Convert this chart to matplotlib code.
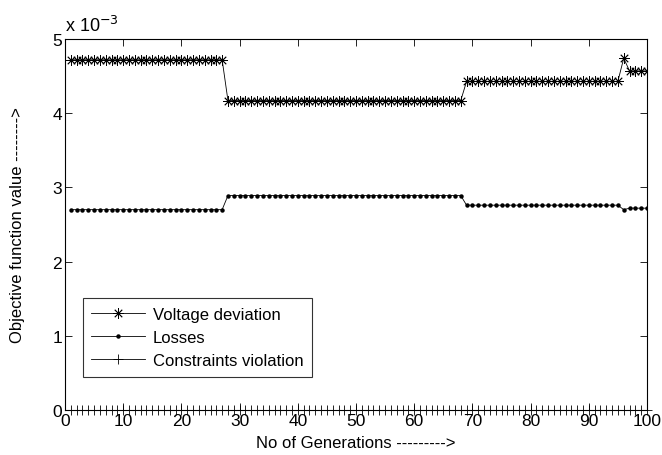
import matplotlib
matplotlib.use("Agg")
import matplotlib.pyplot as plt
import numpy as np

plt.rcParams['font.family'] = ['Liberation Sans', 'DejaVu Sans']

# Generations
generations = list(range(1, 101))

# Objective values in units of 1e-3
voltage_deviation = [
    4.72, 4.72, 4.72, 4.72, 4.72, 4.72, 4.72, 4.72, 4.72, 4.72,
    4.72, 4.72, 4.72, 4.72, 4.72, 4.72, 4.72, 4.72, 4.72, 4.72,
    4.72, 4.72, 4.72, 4.72, 4.72, 4.72, 4.72, 4.17, 4.17, 4.17,
    4.17, 4.17, 4.17, 4.17, 4.17, 4.17, 4.17, 4.17, 4.17, 4.17,
    4.17, 4.17, 4.17, 4.17, 4.17, 4.17, 4.17, 4.17, 4.17, 4.17,
    4.17, 4.17, 4.17, 4.17, 4.17, 4.17, 4.17, 4.17, 4.17, 4.17,
    4.17, 4.17, 4.17, 4.17, 4.17, 4.17, 4.17, 4.17, 4.43, 4.43,
    4.43, 4.43, 4.43, 4.43, 4.43, 4.43, 4.43, 4.43, 4.43, 4.43,
    4.43, 4.43, 4.43, 4.43, 4.43, 4.43, 4.43, 4.43, 4.43, 4.43,
    4.43, 4.43, 4.43, 4.43, 4.43, 4.74, 4.57, 4.57, 4.57, 4.57,
]
losses = [
    2.70, 2.70, 2.70, 2.70, 2.70, 2.70, 2.70, 2.70, 2.70, 2.70,
    2.70, 2.70, 2.70, 2.70, 2.70, 2.70, 2.70, 2.70, 2.70, 2.70,
    2.70, 2.70, 2.70, 2.70, 2.70, 2.70, 2.70, 2.89, 2.89, 2.89,
    2.89, 2.89, 2.89, 2.89, 2.89, 2.89, 2.89, 2.89, 2.89, 2.89,
    2.89, 2.89, 2.89, 2.89, 2.89, 2.89, 2.89, 2.89, 2.89, 2.89,
    2.89, 2.89, 2.89, 2.89, 2.89, 2.89, 2.89, 2.89, 2.89, 2.89,
    2.89, 2.89, 2.89, 2.89, 2.89, 2.89, 2.89, 2.89, 2.76, 2.76,
    2.76, 2.76, 2.76, 2.76, 2.76, 2.76, 2.76, 2.76, 2.76, 2.76,
    2.76, 2.76, 2.76, 2.76, 2.76, 2.76, 2.76, 2.76, 2.76, 2.76,
    2.76, 2.76, 2.76, 2.76, 2.76, 2.70, 2.72, 2.72, 2.72, 2.72,
]
constraints_violation = [0.0] * 100

x_ticks = [0, 10, 20, 30, 40, 50, 60, 70, 80, 90, 100]
y_ticks = [0, 1, 2, 3, 4, 5]

fig = plt.figure(figsize=(6.62, 4.56), dpi=100)
ax = fig.add_axes([65/662, 45/456, 582/662, 371/456])

ax.plot(generations, voltage_deviation, color='black', lw=0.6,
        marker=(8, 2, 0), ms=7.5, mew=0.6, label='Voltage deviation')
ax.plot(generations, losses, color='black', lw=0.6,
        marker='o', ms=3.2, mew=0, label='Losses')
ax.plot(generations, constraints_violation, color='black', lw=0.6,
        marker='+', ms=7, mew=0.6, clip_on=False, label='Constraints violation')

ax.set_xlim(0, 100)
ax.set_ylim(0, 5)
ax.set_xticks(x_ticks)
ax.set_yticks(y_ticks)
ax.tick_params(direction='in', top=True, right=True, length=5, width=0.6,
               labelsize=12.5, pad=2)
for s in ax.spines.values():
    s.set_linewidth(0.8)

ax.set_xlabel('No of Generations --------->', fontsize=12, labelpad=5)
ax.set_ylabel('Objective function value -------->', fontsize=12, labelpad=20)

ax.text(0.0, 1.012, r'x 10$^{-3}$', transform=ax.transAxes, fontsize=13,
        ha='left', va='bottom')

leg = ax.legend(loc='lower left', bbox_to_anchor=(0.031, 0.09), fontsize=12,
                frameon=True, fancybox=False, edgecolor='black',
                handlelength=3.2, borderaxespad=0, labelspacing=0.5,
                handletextpad=0.5, borderpad=0.5)
leg.get_frame().set_linewidth(0.8)

fig.savefig('out.png', dpi=100)
